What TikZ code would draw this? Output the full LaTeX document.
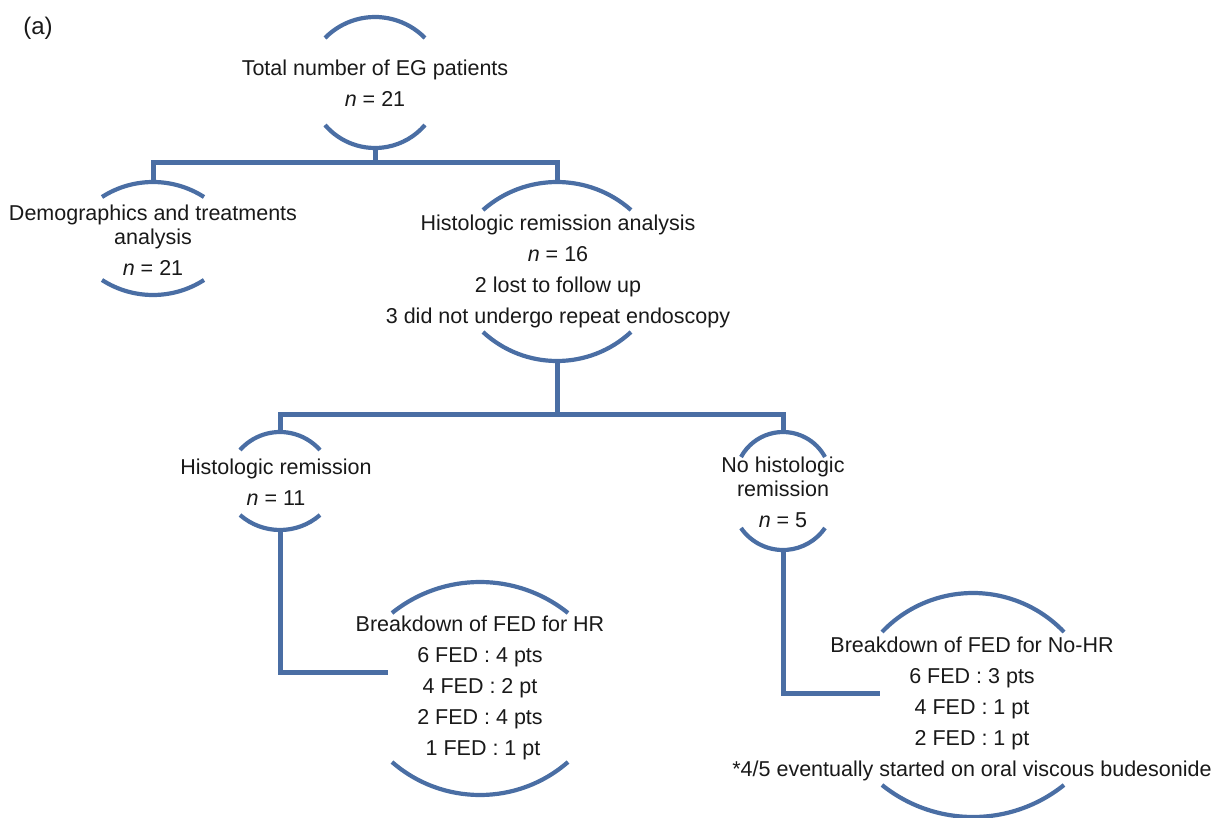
\documentclass[tikz,border=0pt]{standalone}
\usepackage{fontspec}
\setmainfont{Liberation Sans}
\definecolor{fc}{RGB}{74,110,164}
% name, cx, half-width, top end y, top apex y, bottom end y, bottom apex y
\newcommand\drawbrk[7]{%
  \pgfmathsetmacro\brkST{#4-#5}%
  \pgfmathsetmacro\brkRT{(#3*#3+\brkST*\brkST)/(2*\brkST)}%
  \pgfmathsetmacro\brkPT{asin(#3/\brkRT)}%
  \pgfmathsetmacro\brkSB{#7-#6}%
  \pgfmathsetmacro\brkRB{(#3*#3+\brkSB*\brkSB)/(2*\brkSB)}%
  \pgfmathsetmacro\brkPB{asin(#3/\brkRB)}%
  \draw[arcline] (#2-#3,#4) arc[start angle=270-\brkPT, end angle=270+\brkPT, radius=\brkRT];
  \draw[arcline] (#2-#3,#6) arc[start angle=90+\brkPB, end angle=90-\brkPB, radius=\brkRB];
  \coordinate (#1t) at (#2,#5);
  \coordinate (#1b) at (#2,#7);
}
\begin{document}
\begin{tikzpicture}[x=1pt,y=-1pt,
  conn/.style={draw=fc, line width=5pt},
  arcline/.style={draw=fc, line width=4.2pt},
  txt/.style={font=\fontsize{21.5}{24}\selectfont, align=center, inner sep=0pt, text=black!90}]
\useasboundingbox (0,0) rectangle (1215,818);

% label
\node[txt, font=\fontsize{24}{28}\selectfont] (lbl) at (38,28) {(a)};

% text nodes
\node[txt] (n1) at (375,83) {Total number of EG patients\\[7pt]\textit{n} = 21};
\node[txt] (n2) at (153,240) {Demographics and treatments\\analysis\\[7pt]\textit{n} = 21};
\node[txt] (n3) at (558,271) {Histologic remission analysis\\[7pt]\textit{n} = 16\\[7pt]2 lost to follow up\\[7pt]3 did not undergo repeat endoscopy};
\node[txt] (n4) at (276,482) {Histologic remission\\[7pt]\textit{n} = 11};
\node[txt] (n5) at (480,688) {Breakdown of FED for HR\\[7pt]6 FED : 4 pts\\[7pt]4 FED : 2 pt\\[7pt]2 FED : 4 pts\\[7pt]~1 FED : 1 pt};
\node[txt] (n6) at (783,492) {No histologic\\remission\\[7pt]\textit{n} = 5};
\node[txt] (n7) at (972,709) {Breakdown of FED for No-HR\\[7pt]6 FED : 3 pts\\[7pt]4 FED : 1 pt\\[7pt]2 FED : 1 pt\\[7pt]*4/5 eventually started on oral viscous budesonide};

% bracket arcs
\drawbrk{a1}{375}{50}{38}{17}{125}{148}
\drawbrk{a2}{153}{51}{197}{182}{280}{295}
\drawbrk{a3}{557}{74}{210}{182}{332}{361}
\drawbrk{a4}{280}{40}{450}{432}{515}{530}
\drawbrk{a5}{480}{88}{613}{582}{762}{795}
\drawbrk{a6}{783}{42}{457}{432}{528}{550}
\drawbrk{a7}{973}{91}{632}{593}{785}{817}

% connectors
\coordinate (j1) at (375,163);
\draw[conn] (a1b) -- (j1);
\draw[conn] (a2t) |- (j1) -| (a3t);
\coordinate (j2) at (557,414);
\draw[conn] (a3b) -- (j2);
\draw[conn] (a4t) |- (j2) -| (a6t);
\coordinate (e5) at (388,672);
\draw[conn] (a4b) |- (e5);
\coordinate (e6) at (880,693);
\draw[conn] (a6b) |- (e6);
\end{tikzpicture}
\end{document}
